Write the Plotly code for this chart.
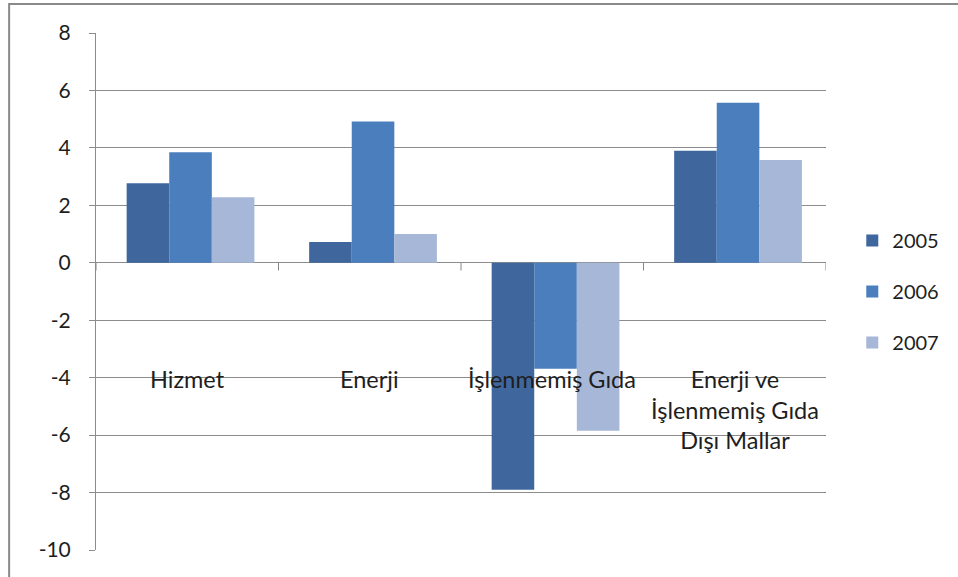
import plotly.graph_objects as go

categories = ["Hizmet", "Enerji", "İşlenmemiş Gıda", "Enerji ve<br>İşlenmemiş Gıda<br>Dışı Mallar"]
years = ["2005", "2006", "2007"]
v2005 = [2.77, 0.72, -7.9, 3.9]
v2006 = [3.85, 4.92, -3.69, 5.57]
v2007 = [2.28, 1.0, -5.85, 3.58]
y_ticks = [8, 6, 4, 2, 0, -2, -4, -6, -8, -10]

colors = ["#3F679E", "#4A7EBD", "#A6B7D8"]
FONT = "Lato"
TXT = "#1e1e1e"

BAR_W = 0.7 / 3
GROUP_START = -0.35 + 0.018

fig = go.Figure()
for k, (name, vals, c) in enumerate(zip(years, [v2005, v2006, v2007], colors)):
    fig.add_trace(go.Bar(x=list(range(len(categories))), y=vals, name=name,
                         width=BAR_W, offset=GROUP_START + k * BAR_W,
                         marker=dict(color=c, line=dict(width=0)),
                         legendgroup=name))

shapes = []
# category boundary tick marks along the zero line
for i in range(len(categories) + 1):
    shapes.append(dict(type="line", xref="x", yref="y", x0=i - 0.5, x1=i - 0.5,
                       y0=0, y1=-0.27, line=dict(color="#868686", width=1)))
# outer chart border
shapes.append(dict(type="rect", xref="paper", yref="paper", x0=-0.119, x1=1.3,
                   y0=-0.2, y1=1.056, line=dict(color="#8a8a8a", width=2),
                   layer="below"))

annotations = []
for i, c in enumerate(categories):
    annotations.append(dict(x=i, y=-3.5, xref="x", yref="y", text=c,
                            showarrow=False, yanchor="top", xanchor="center",
                            font=dict(family=FONT, size=23.5, color=TXT)))

fig.update_layout(
    width=958, height=577,
    margin=dict(l=96, r=132, t=33, b=27),
    paper_bgcolor="white", plot_bgcolor="white",
    barmode="overlay",
    font=dict(family=FONT, size=20, color=TXT),
    showlegend=True,
    legend=dict(x=1.036, xanchor="left", y=0.5, yanchor="middle",
                font=dict(family=FONT, size=20, color=TXT),
                tracegroupgap=22, bgcolor="rgba(0,0,0,0)"),
    xaxis=dict(range=[-0.5, len(categories) - 0.5], showticklabels=False,
               showgrid=False, zeroline=False, showline=False, ticks=""),
    yaxis=dict(range=[-10, 8], tickvals=y_ticks, ticktext=[str(t) for t in y_ticks],
               showgrid=True, gridcolor="#8c8c8c", gridwidth=1,
               zeroline=True, zerolinecolor="#8c8c8c", zerolinewidth=1,
               showline=True, linecolor="#8c8c8c", linewidth=1,
               ticks="outside", ticklen=6, tickcolor="#8c8c8c",
               ticklabelstandoff=14,
               tickfont=dict(family=FONT, size=21, color=TXT)),
    shapes=shapes, annotations=annotations,
)

fig.write_html("out.html")
